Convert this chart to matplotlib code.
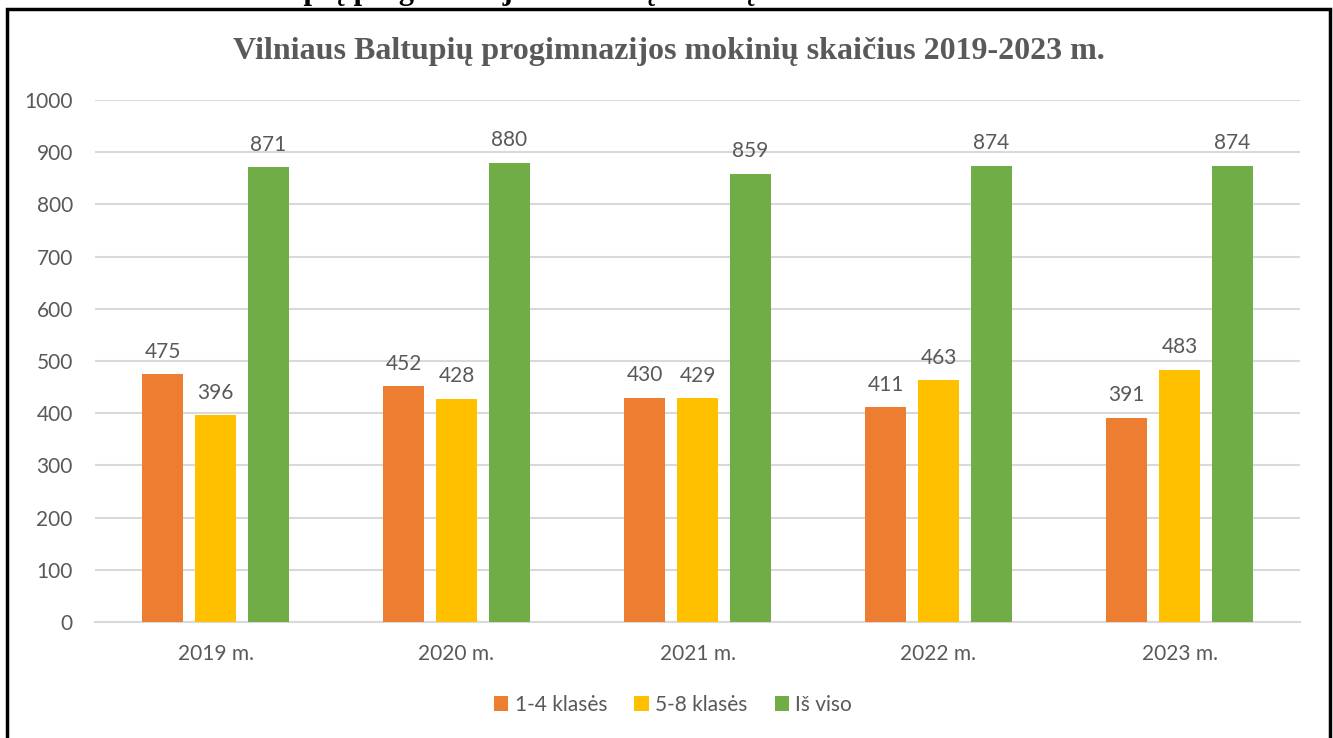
import matplotlib
matplotlib.use("Agg")
import matplotlib.pyplot as plt
import numpy as np
from matplotlib.patches import Rectangle

categories = ["2019 m.", "2020 m.", "2021 m.", "2022 m.", "2023 m."]
series_names = ["1-4 klasės", "5-8 klasės", "Iš viso"]
kl_1_4 = [475, 452, 430, 411, 391]
kl_5_8 = [396, 428, 429, 463, 483]
is_viso = [871, 880, 859, 874, 874]
yticks = [0, 100, 200, 300, 400, 500, 600, 700, 800, 900, 1000]
title = "Vilniaus Baltupių progimnazijos mokinių skaičius 2019-2023 m."
top_cut_text = "Baltupių progimnazijos mokinių skaičių"

colors = ["#ED7D31", "#FFC000", "#70AD47"]
grey = "#595959"
W, H = 1333, 738
fig = plt.figure(figsize=(W / 100, H / 100), dpi=100)
fig.patch.set_facecolor("white")

ax = fig.add_axes([95 / W, 1 - 622 / H, 1205 / W, 522 / H])
x = np.arange(len(categories))
bw = 0.174
step = 0.22
for i, (vals, c, name) in enumerate(zip([kl_1_4, kl_5_8, is_viso], colors, series_names)):
    bars = ax.bar(x + (i - 1) * step, vals, width=bw, color=c, label=name, zorder=3)
    for b, v in zip(bars, vals):
        ax.annotate(str(v), (b.get_x() + b.get_width() / 2, v), xytext=(0, 9),
                    textcoords="offset points", ha="center", va="bottom",
                    fontsize=15, color=grey, family="Lato")

ax.set_xlim(-0.5, len(categories) - 0.5)
ax.set_ylim(0, 1000)
ax.set_yticks(yticks)
ax.set_xticks(x)
ax.set_xticklabels(categories)
ax.yaxis.grid(True, color="#D9D9D9", linewidth=1.5, zorder=0)
ax.set_axisbelow(True)
for s in ["top", "right", "left"]:
    ax.spines[s].set_visible(False)
ax.spines["bottom"].set_color("#D9D9D9")
ax.spines["bottom"].set_linewidth(1.5)
ax.tick_params(axis="both", length=0, labelsize=15, labelcolor=grey)
ax.tick_params(axis="y", pad=16)
ax.tick_params(axis="x", pad=16)
for lab in ax.get_xticklabels() + ax.get_yticklabels():
    lab.set_family("Lato")

fig.text(669 / W, 1 - 51 / H, title, ha="center", va="center", fontsize=23,
         fontweight="bold", family="Liberation Serif", color=grey)

leg = fig.legend(loc="center", bbox_to_anchor=(673 / W, 1 - 705 / H), ncol=3, frameon=False,
                 prop={"family": "Lato", "size": 15}, handlelength=0.7, handleheight=0.7,
                 handletextpad=0.3, columnspacing=1.3)
for t in leg.get_texts():
    t.set_color(grey)

# heading line of the page above the chart, cut off by the crop
fig.text(232 / W, 1 + 1 / H, top_cut_text, ha="left", va="baseline", fontsize=22,
         fontweight="bold", family="Liberation Serif", color="black")

# frame
fig.patches.append(Rectangle((7 / W, -0.05), (1330 - 7) / W, (1 - 9 / H) + 0.05,
                             transform=fig.transFigure, fill=False, edgecolor="black",
                             linewidth=2.5, zorder=10))

fig.savefig("out.png", dpi=100)
